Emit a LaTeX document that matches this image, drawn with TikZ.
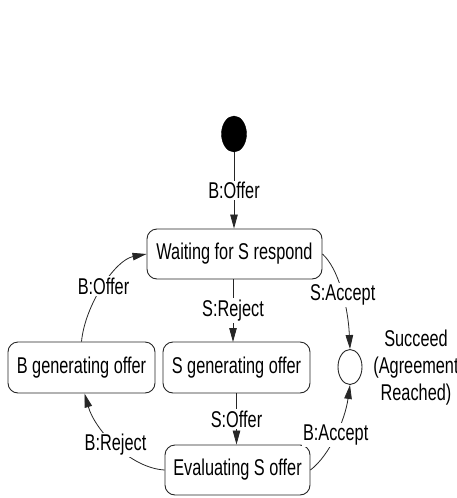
\documentclass[tikz,border=0pt]{standalone}
\usepackage{fontspec}
\setmainfont{Liberation Sans}
\usetikzlibrary{arrows.meta,shapes.geometric}
\newcommand{\vs}[1]{\scalebox{1}[1.4]{#1}}
\begin{document}
\begin{tikzpicture}[x=1pt,y=-1pt,
  txt/.style={font=\fontsize{16.3}{19.6}\selectfont},
  state/.style={txt, draw=black!85, line width=0.9pt, rounded corners=10pt,
    minimum height=50pt, inner sep=0pt},
  dot/.style={ellipse, fill=black, draw=black, inner sep=0pt},
  finalst/.style={ellipse, draw=black!85, line width=0.9pt, inner sep=0pt},
  lbl/.style={txt, fill=white, inner sep=1.5pt},
  edge/.style={draw=black!85, line width=0.8pt, -{Triangle[length=14pt,width=7.5pt]}}]
\useasboundingbox (0,0) rectangle (456,498);

\node[dot, minimum width=25pt, minimum height=36pt] (init) at (234,134) {};
\node[state, minimum width=175pt] (wait) at (234.5,254) {\vs{Waiting for S respond}};
\node[state, minimum width=147pt, minimum height=51pt] (bgen) at (81.5,367.5) {\vs{B generating offer}};
\node[state, minimum width=147pt, minimum height=51pt] (sgen) at (236.5,367.5) {\vs{S generating offer}};
\node[state, minimum width=145pt] (eval) at (237.5,470) {\vs{Evaluating S offer}};
\node[finalst, minimum width=24pt, minimum height=35pt] (fin) at (350,367) {};
\node[txt, inner sep=0pt] (succ) at (416,368) {\vs{\begin{tabular}{@{}c@{}}Succeed\\(Agreement\\Reached)\end{tabular}}};

\draw[edge] (init.south) -- node[lbl]{\vs{B:Offer}} (init.south |- wait.north);
\draw[edge] (233,279) -- node[lbl]{\vs{S:Reject}} (233,342);
\draw[edge] (sgen.south) -- node[lbl]{\vs{S:Offer}} (sgen.south |- eval.north);

\draw[edge] (wait.east) .. controls (338,268) and (348,305) .. node[lbl, pos=0.55]{\vs{S:Accept}} (fin.north);
\draw[edge] (eval.east) .. controls (330,455) and (345,420) .. node[lbl]{\vs{B:Accept}} (fin.south);
\draw[edge] (eval.west) .. controls (130,468) and (95,430) .. node[lbl]{\vs{B:Reject}} ([xshift=3pt]bgen.south);
\draw[edge] (bgen.north) .. controls (85,305) and (115,260) .. node[lbl]{\vs{B:Offer}} (wait.west);
\end{tikzpicture}
\end{document}
